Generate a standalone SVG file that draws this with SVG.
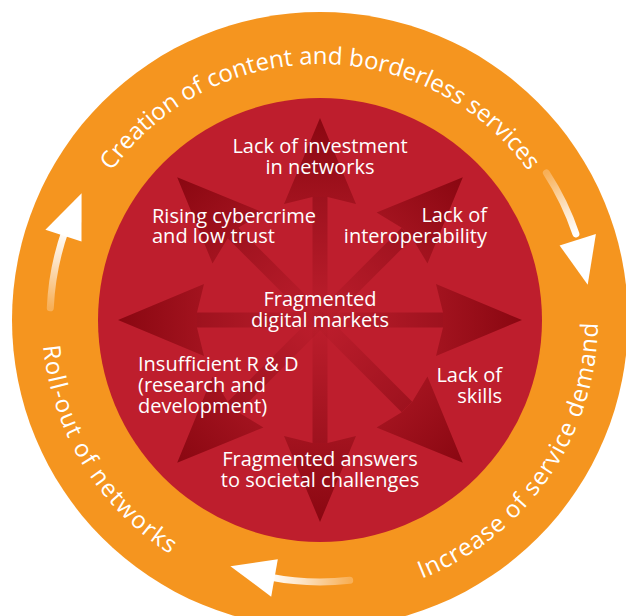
<svg xmlns="http://www.w3.org/2000/svg" width="626" height="616" viewBox="0 0 626 616">
  <style>
    .lbl { font-family: "Open Sans", "Noto Sans", "DejaVu Sans", sans-serif; font-size: 20px; font-weight: 500; fill: #ffffff; }
    .ring { font-family: "Open Sans", "Noto Sans", "DejaVu Sans", sans-serif; font-size: 24px; font-weight: 500; fill: #ffffff; }
    .shaft { fill: url(#shaftGrad); }
    .head { fill: url(#headGrad); }
    .cyc-shaft { fill: none; stroke-width: 7; stroke-linecap: round; }
    .cyc-head { fill: #ffffff; }
  </style>
  <defs>
    <!-- radial ray drawn pointing up from the hub at (0,0) -->
    <linearGradient id="headGrad" gradientUnits="userSpaceOnUse" x1="0" y1="-116" x2="0" y2="-202">
      <stop offset="0" stop-color="#A3131F"/>
      <stop offset="1" stop-color="#8A0711"/>
    </linearGradient>
    <linearGradient id="shaftGrad" gradientUnits="userSpaceOnUse" x1="0" y1="-10" x2="0" y2="-123">
      <stop offset="0" stop-color="#6E0008" stop-opacity="0.04"/>
      <stop offset="1" stop-color="#6E0008" stop-opacity="0.4"/>
    </linearGradient>
    <g id="ray">
      <rect class="shaft" x="-7.5" y="-123" width="15" height="123"/>
      <path class="head" d="M0,-202 L36,-116 L7.5,-123 L-7.5,-123 L-36,-116 Z"/>
    </g>
    <linearGradient id="cyc1" gradientUnits="userSpaceOnUse" x1="50.3" y1="307.8" x2="65.5" y2="229.9">
      <stop offset="0" stop-color="#ffffff" stop-opacity="0.25"/>
      <stop offset="0.6" stop-color="#ffffff" stop-opacity="0.75"/>
      <stop offset="1" stop-color="#ffffff" stop-opacity="1"/>
    </linearGradient>
    <linearGradient id="cyc2" gradientUnits="userSpaceOnUse" x1="546.4" y1="172.9" x2="575.9" y2="233.9">
      <stop offset="0" stop-color="#ffffff" stop-opacity="0.25"/>
      <stop offset="0.6" stop-color="#ffffff" stop-opacity="0.75"/>
      <stop offset="1" stop-color="#ffffff" stop-opacity="1"/>
    </linearGradient>
    <linearGradient id="cyc3" gradientUnits="userSpaceOnUse" x1="349.7" y1="580.3" x2="268.7" y2="576.9">
      <stop offset="0" stop-color="#ffffff" stop-opacity="0.25"/>
      <stop offset="0.6" stop-color="#ffffff" stop-opacity="0.75"/>
      <stop offset="1" stop-color="#ffffff" stop-opacity="1"/>
    </linearGradient>
    <!-- text paths for the outer ring -->
    <path id="arcTop" d="M64,320 A256,256 0 0 1 576,320"/>
    <path id="arcRight" d="M368.3,593.8 A278,278 0 0 0 592.9,267"/>
    <path id="arcLeft" d="M50.3,252.7 A278,278 0 0 0 257.5,590.9"/>
  </defs>

  <!-- outer cycle ring and inner disc -->
  <circle cx="320" cy="320" r="308" fill="#F5951F"/>
  <circle cx="320" cy="320" r="222" fill="#BE1E2D"/>

  <!-- rays radiating from the centre -->
  <g id="connectors">
    <use href="#ray" transform="translate(320,320) rotate(0)"/>
    <use href="#ray" transform="translate(320,320) rotate(45)"/>
    <use href="#ray" transform="translate(320,320) rotate(90)"/>
    <use href="#ray" transform="translate(320,320) rotate(135)"/>
    <use href="#ray" transform="translate(320,320) rotate(180)"/>
    <use href="#ray" transform="translate(320,320) rotate(225)"/>
    <use href="#ray" transform="translate(320,320) rotate(270)"/>
    <use href="#ray" transform="translate(320,320) rotate(315)"/>
  </g>

  <!-- cycle arrows in the ring -->
  <g id="cycle-arrows">
    <path class="cyc-shaft" stroke="url(#cyc1)" d="M50.3,307.8 A270,270 0 0 1 65.5,229.9"/>
    <polygon class="cyc-head" points="81.6,193.2 81.5,241.6 45.4,229.7"/>
    <path class="cyc-shaft" stroke="url(#cyc2)" d="M546.4,172.9 A270,270 0 0 1 575.9,233.9"/>
    <polygon class="cyc-head" points="587.7,284.8 595.9,234.1 559.6,245.4"/>
    <path class="cyc-shaft" stroke="url(#cyc3)" d="M349.7,580.3 A262,262 0 0 1 268.7,576.9"/>
    <polygon class="cyc-head" points="230.4,566.2 277.8,559.3 271.2,596.7"/>
  </g>

  <!-- ring captions -->
  <g id="ring-content">
    <text class="ring" text-anchor="middle"><textPath href="#arcTop" startOffset="50%">Creation of content and borderless services</textPath></text>
  </g>
  <g id="ring-demand">
    <text class="ring" text-anchor="middle" letter-spacing="0.9"><textPath href="#arcRight" startOffset="50%">Increase of service demand</textPath></text>
  </g>
  <g id="ring-rollout">
    <text class="ring" text-anchor="middle" letter-spacing="1.4"><textPath href="#arcLeft" startOffset="50%">Roll-out of networks</textPath></text>
  </g>

  <!-- barrier labels -->
  <g id="investment">
    <text class="lbl" text-anchor="middle"><tspan x="320" y="153">Lack of investment</tspan><tspan x="320" y="174">in networks</tspan></text>
  </g>
  <g id="cybercrime">
    <text class="lbl"><tspan x="152" y="223">Rising cybercrime</tspan><tspan x="152" y="243">and low trust</tspan></text>
  </g>
  <g id="interoperability">
    <text class="lbl" text-anchor="end"><tspan x="487" y="222">Lack of</tspan><tspan x="487" y="243">interoperability</tspan></text>
  </g>
  <g id="markets">
    <text class="lbl" text-anchor="middle"><tspan x="320" y="306">Fragmented</tspan><tspan x="320" y="327">digital markets</tspan></text>
  </g>
  <g id="research">
    <text class="lbl"><tspan x="138" y="371">Insufficient R &amp; D</tspan><tspan x="138" y="392">(research and</tspan><tspan x="138" y="413">development)</tspan></text>
  </g>
  <g id="skills">
    <text class="lbl" text-anchor="end"><tspan x="502" y="382">Lack of</tspan><tspan x="502" y="403">skills</tspan></text>
  </g>
  <g id="societal">
    <text class="lbl" text-anchor="middle"><tspan x="320" y="466">Fragmented answers</tspan><tspan x="320" y="487">to societal challenges</tspan></text>
  </g>
</svg>
